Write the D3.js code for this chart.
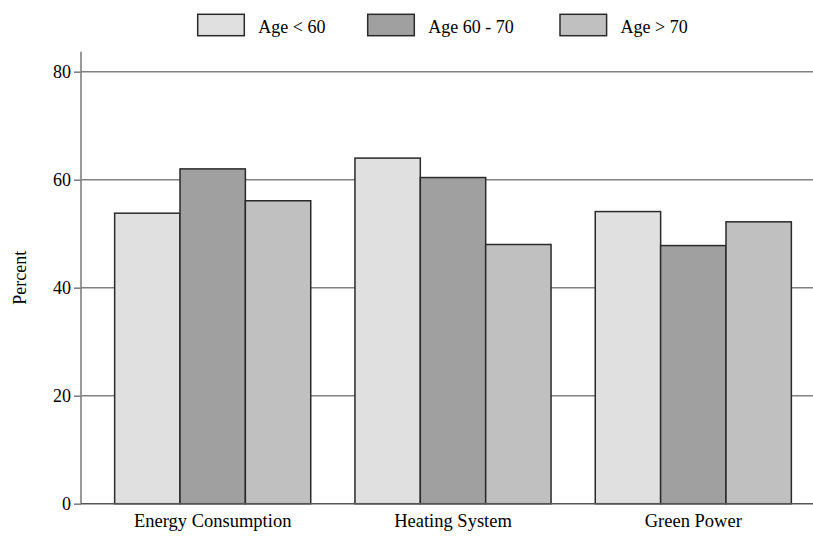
<!DOCTYPE html>
<html>
<head>
<meta charset="utf-8">
<script src="https://cdn.jsdelivr.net/npm/d3@7"></script>
<style>
  body { margin: 0; background: #fff; }
  text { font-family: "Liberation Serif", "Times New Roman", serif; fill: #000; }
</style>
</head>
<body>
<div id="chart"></div>
<script>
const categories = ["Energy Consumption", "Heating System", "Green Power"];
const seriesNames = ["Age < 60", "Age 60 - 70", "Age > 70"];
const ageUnder60 = [53.8, 64.0, 54.1];
const age60to70 = [62.0, 60.4, 47.8];
const ageOver70 = [56.1, 48.0, 52.2];
const yTicks = [0, 20, 40, 60, 80];

const seriesValues = [ageUnder60, age60to70, ageOver70];
const fills = ["#e0e0e0", "#a0a0a0", "#c0c0c0"];

const width = 813;
const height = 536;
const plotLeft = 81;
const plotTop = 51.7;
const plotBottom = 503.7;

const svg = d3.select("#chart").append("svg")
  .attr("width", width)
  .attr("height", height);

// scales
const x0 = d3.scaleBand()
  .domain(categories)
  .range([plotLeft, 825])
  .paddingInner(0.184)
  .paddingOuter(0.14);

const x1 = d3.scaleBand()
  .domain(seriesNames)
  .range([0, x0.bandwidth()]);

const y = d3.scaleLinear()
  .domain([0, 80])
  .range([plotBottom, 71.7]);

// grid lines
svg.append("g")
  .selectAll("line")
  .data(yTicks.filter(d => d > 0))
  .join("line")
  .attr("x1", plotLeft)
  .attr("x2", width)
  .attr("y1", d => y(d))
  .attr("y2", d => y(d))
  .attr("stroke", "#808080")
  .attr("stroke-width", 1.6);

// bars
const table = categories.map((c, i) => ({
  category: c,
  values: seriesNames.map((s, j) => ({series: s, value: seriesValues[j][i], idx: j}))
}));

svg.append("g")
  .selectAll("g")
  .data(table)
  .join("g")
  .attr("transform", d => `translate(${x0(d.category)},0)`)
  .selectAll("rect")
  .data(d => d.values)
  .join("rect")
  .attr("x", d => x1(d.series))
  .attr("y", d => y(d.value))
  .attr("width", x1.bandwidth())
  .attr("height", d => y(0) - y(d.value))
  .attr("fill", d => fills[d.idx])
  .attr("stroke", "#2a2a2a")
  .attr("stroke-width", 1.5);

// y axis
const yAxis = svg.append("g")
  .attr("transform", `translate(${plotLeft},0)`)
  .call(d3.axisLeft(y).tickValues(yTicks).tickSize(7).tickPadding(3).tickSizeOuter(0));
yAxis.select(".domain").remove();
yAxis.selectAll(".tick line").attr("stroke", "#808080").attr("stroke-width", 1.6);
yAxis.selectAll(".tick text")
  .style("font-family", "'Liberation Serif', serif")
  .style("font-size", "18px")
  .attr("fill", "#000");

svg.append("line")
  .attr("x1", plotLeft).attr("x2", plotLeft)
  .attr("y1", plotTop).attr("y2", plotBottom)
  .attr("stroke", "#808080")
  .attr("stroke-width", 1.6);

// x baseline
svg.append("line")
  .attr("x1", plotLeft).attr("x2", width)
  .attr("y1", y(0)).attr("y2", y(0))
  .attr("stroke", "#555")
  .attr("stroke-width", 1.6);

// category labels
svg.append("g")
  .selectAll("text")
  .data(categories)
  .join("text")
  .attr("x", d => x0(d) + x0.bandwidth() / 2)
  .attr("y", 527)
  .attr("text-anchor", "middle")
  .style("font-size", "18.5px")
  .text(d => d);

// y title
svg.append("text")
  .attr("transform", `translate(26,${(plotTop + plotBottom) / 2}) rotate(-90)`)
  .attr("text-anchor", "middle")
  .style("font-size", "18px")
  .text("Percent");

// legend
const legendX = [197.7, 367.7, 560];
const legend = svg.append("g")
  .selectAll("g")
  .data(seriesNames)
  .join("g")
  .attr("transform", (d, i) => `translate(${legendX[i]},14.3)`);

legend.append("rect")
  .attr("width", 46.6)
  .attr("height", 21.4)
  .attr("fill", (d, i) => fills[i])
  .attr("stroke", "#2a2a2a")
  .attr("stroke-width", 1.5);

legend.append("text")
  .attr("x", 60.6)
  .attr("y", 19)
  .style("font-size", "18px")
  .text(d => d);
</script>
</body>
</html>
